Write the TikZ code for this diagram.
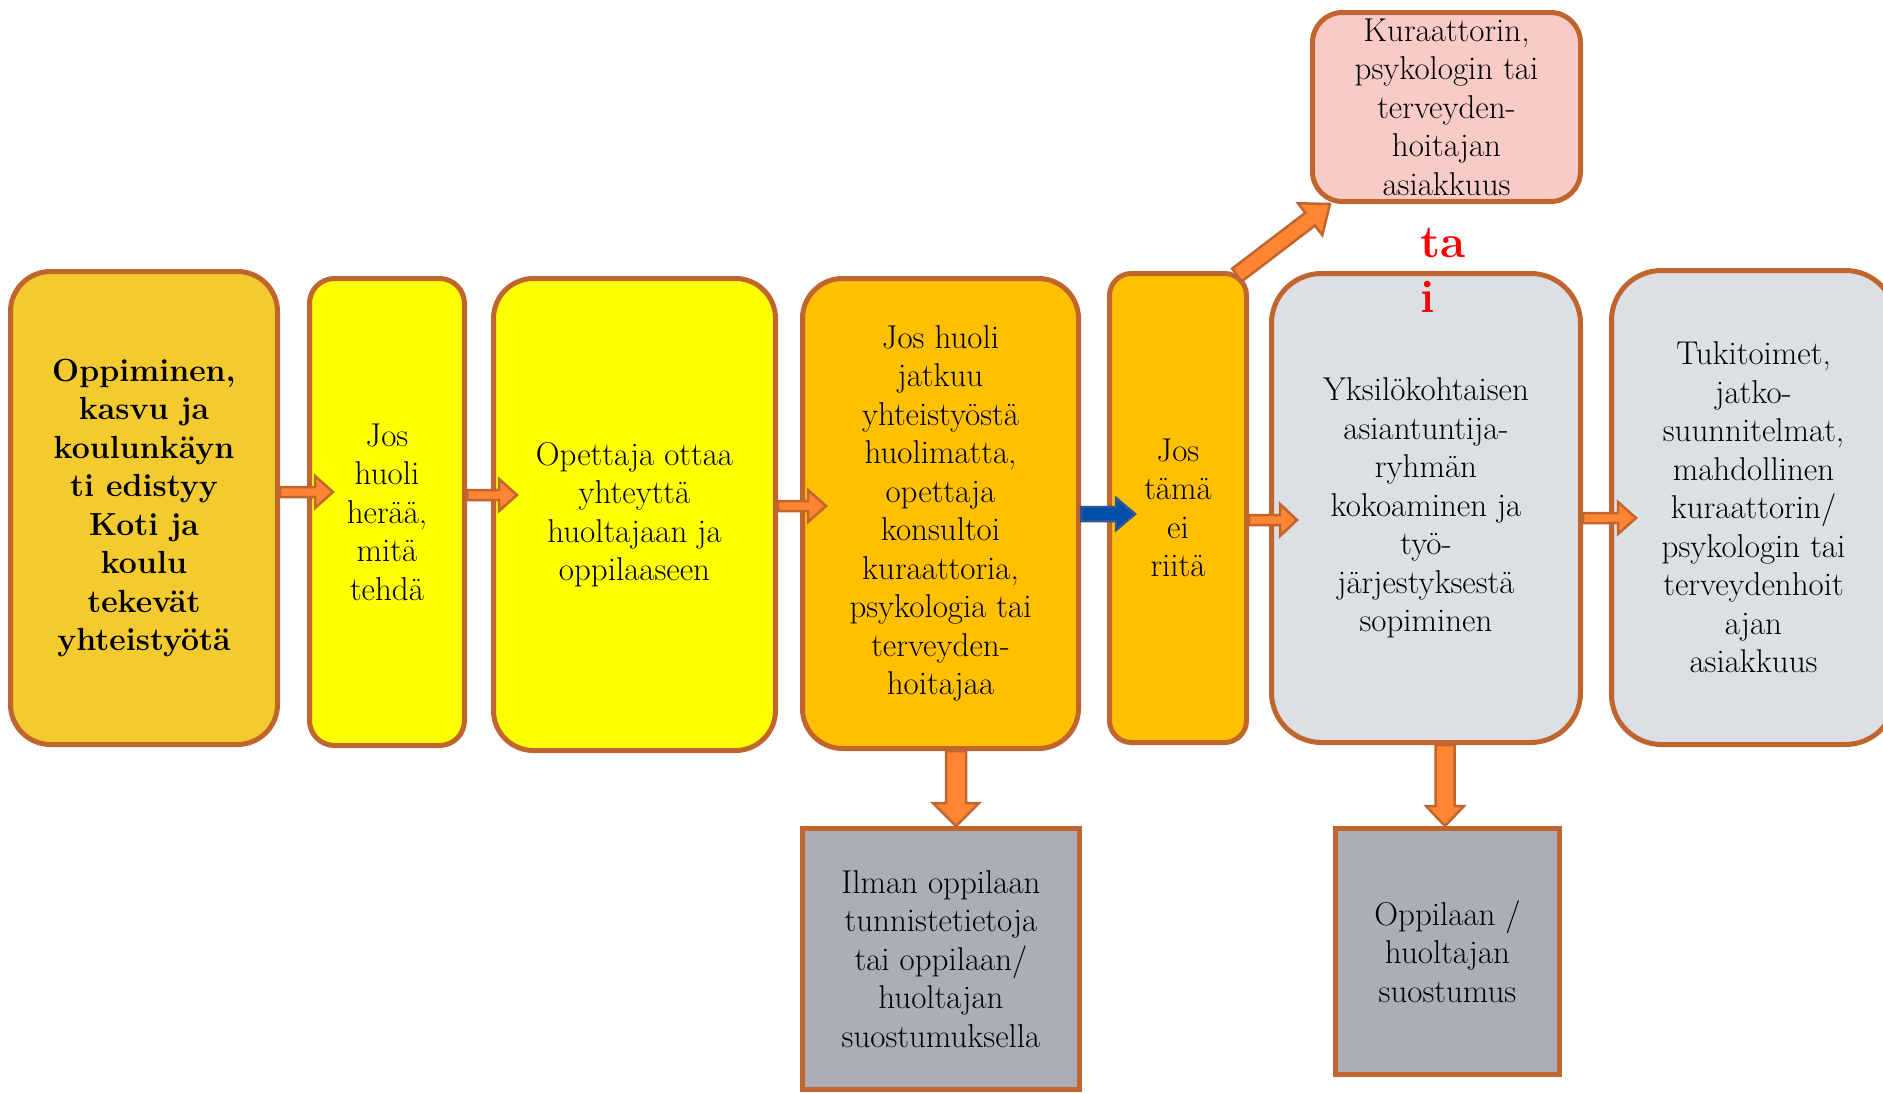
\documentclass[tikz,border=0pt]{standalone}
\usetikzlibrary{calc}
\definecolor{cgold}{HTML}{F3CB2F}
\definecolor{cyel}{HTML}{FFFF00}
\definecolor{corg}{HTML}{FFC000}
\definecolor{cgrl}{HTML}{DCDFE3}
\definecolor{cpink}{HTML}{F8CBC6}
\definecolor{cgrd}{HTML}{ABAEB6}
\definecolor{cbrd}{HTML}{C0652E}
\definecolor{carr}{HTML}{FF8533}
\definecolor{cblue}{HTML}{0050A8}
\definecolor{cblued}{HTML}{2F5597}
\definecolor{cred}{HTML}{FF0000}
\newcommand{\blkarrow}[6][]{%
  \coordinate (tH) at ($(#3)!#6pt!(#2)$);
  \draw[#1] ($(#2)!#4pt!90:(#3)$) -- ($(tH)!#4pt!90:(#3)$) -- ($(tH)!#5pt!90:(#3)$) -- (#3)
    -- ($(tH)!#5pt!-90:(#3)$) -- ($(tH)!#4pt!-90:(#3)$) -- ($(#2)!#4pt!-90:(#3)$) -- cycle;}
\begin{document}
\begin{tikzpicture}[x=1pt,y=-1pt,
  box/.style={draw=cbrd, line width=5pt, align=center, inner sep=0pt,
    font=\fontsize{33}{38.5}\selectfont},
  orarrow/.style={fill=carr, draw=cbrd, line width=2.5pt, line join=miter},
  blarrow/.style={fill=cblue, draw=cblued, line width=2.5pt, line join=miter}]
\useasboundingbox (0,0) rectangle (1883,1093);

\node[box, fill=cgold, minimum width=267pt, minimum height=473pt, rounded corners=40pt,
  font=\fontsize{32}{38.5}\selectfont\bfseries] (b1) at (144,508)
  {Oppiminen,\\kasvu ja\\koulunkäyn\\ti edistyy\\Koti ja\\koulu\\tekevät\\yhteistyötä};
\node[box, fill=cyel, minimum width=155pt, minimum height=467pt, rounded corners=25pt] (b2) at (387,512)
  {Jos\\huoli\\herää,\\mitä\\tehdä};
\node[box, fill=cyel, minimum width=282pt, minimum height=472pt, rounded corners=40pt] (b3) at (634.5,514.5)
  {Opettaja ottaa\\yhteyttä\\huoltajaan ja\\oppilaaseen};
\node[box, fill=corg, minimum width=276pt, minimum height=470pt, rounded corners=40pt] (b4) at (940.5,513.5)
  {Jos huoli\\jatkuu\\yhteistyöstä\\huolimatta,\\opettaja\\konsultoi\\kuraattoria,\\psykologia tai\\terveyden-\\hoitajaa};
\node[box, fill=corg, minimum width=137pt, minimum height=469pt, rounded corners=22pt] (b5) at (1178,508)
  {Jos\\tämä\\ei\\riitä};
\node[box, fill=cgrl, minimum width=309pt, minimum height=469pt, rounded corners=50pt] (b6) at (1426,508)
  {Yksilökohtaisen\\asiantuntija-\\ryhmän\\kokoaminen ja\\työ-\\järjestyksestä\\sopiminen};
\node[box, fill=cgrl, minimum width=284pt, minimum height=474pt, rounded corners=50pt] (b7) at (1753.5,507.5)
  {Tukitoimet,\\jatko-\\suunnitelmat,\\mahdollinen\\kuraattorin/\\psykologin tai\\terveydenhoit\\ajan\\asiakkuus};
\node[box, fill=cpink, minimum width=268pt, minimum height=189pt, rounded corners=30pt] (pk) at (1446.5,107)
  {Kuraattorin,\\psykologin tai\\terveyden-\\hoitajan\\asiakkuus};
\node[box, fill=cgrd, minimum width=277pt, minimum height=261pt] (g1) at (941,959)
  {Ilman oppilaan\\tunnistetietoja\\tai oppilaan/\\huoltajan\\suostumuksella};
\node[box, fill=cgrd, minimum width=224pt, minimum height=246pt] (g2) at (1447.5,951.5)
  {Oppilaan /\\huoltajan\\suostumus};
\node[text=cred, align=left, inner sep=0pt, font=\fontsize{46}{55}\selectfont\bfseries] (tai) at (1443,270)
  {ta\\i};

\coordinate (a1s) at (b1.east |- 0,492);
\coordinate (a1e) at ($(b2.west |- 0,492)+(26,0)$);
\coordinate (a2s) at (b2.east |- 0,495);
\coordinate (a2e) at ($(b3.west |- 0,495)+(26,0)$);
\coordinate (a3s) at (b3.east |- 0,506);
\coordinate (a3e) at ($(b4.west |- 0,506)+(26,0)$);
\coordinate (a4s) at (b4.east |- 0,514);
\coordinate (a4e) at ($(b5.west |- 0,514)+(28,0)$);
\coordinate (a5s) at (b5.east |- 0,520);
\coordinate (a5e) at ($(b6.west |- 0,520)+(28,0)$);
\coordinate (a6s) at (b6.east |- 0,518);
\coordinate (a6e) at ($(b7.west |- 0,518)+(27,0)$);
\coordinate (d1s) at (956,0 |- b4.south);
\coordinate (d1e) at (956,0 |- g1.north);
\coordinate (d2s) at (1445,0 |- b6.south);
\coordinate (d2e) at (1445,0 |- g2.north);
\coordinate (dgs) at ($(b5.north east)+(-12,4)$);
\coordinate (dge) at ($(pk.south west)+(20,0)$);

\blkarrow[orarrow]{a1s}{a1e}{5}{16}{18}
\blkarrow[orarrow]{a2s}{a2e}{5}{16}{18}
\blkarrow[orarrow]{a3s}{a3e}{5}{16}{18}
\blkarrow[blarrow]{a4s}{a4e}{7}{16}{19}
\blkarrow[orarrow]{a5s}{a5e}{5}{16}{17}
\blkarrow[orarrow]{a6s}{a6e}{5}{16}{18}
\blkarrow[orarrow]{d1s}{d1e}{10}{23}{23}
\blkarrow[orarrow]{d2s}{d2e}{9.5}{19}{20}
\blkarrow[orarrow]{dgs}{dge}{8}{20}{25}
\end{tikzpicture}
\end{document}
